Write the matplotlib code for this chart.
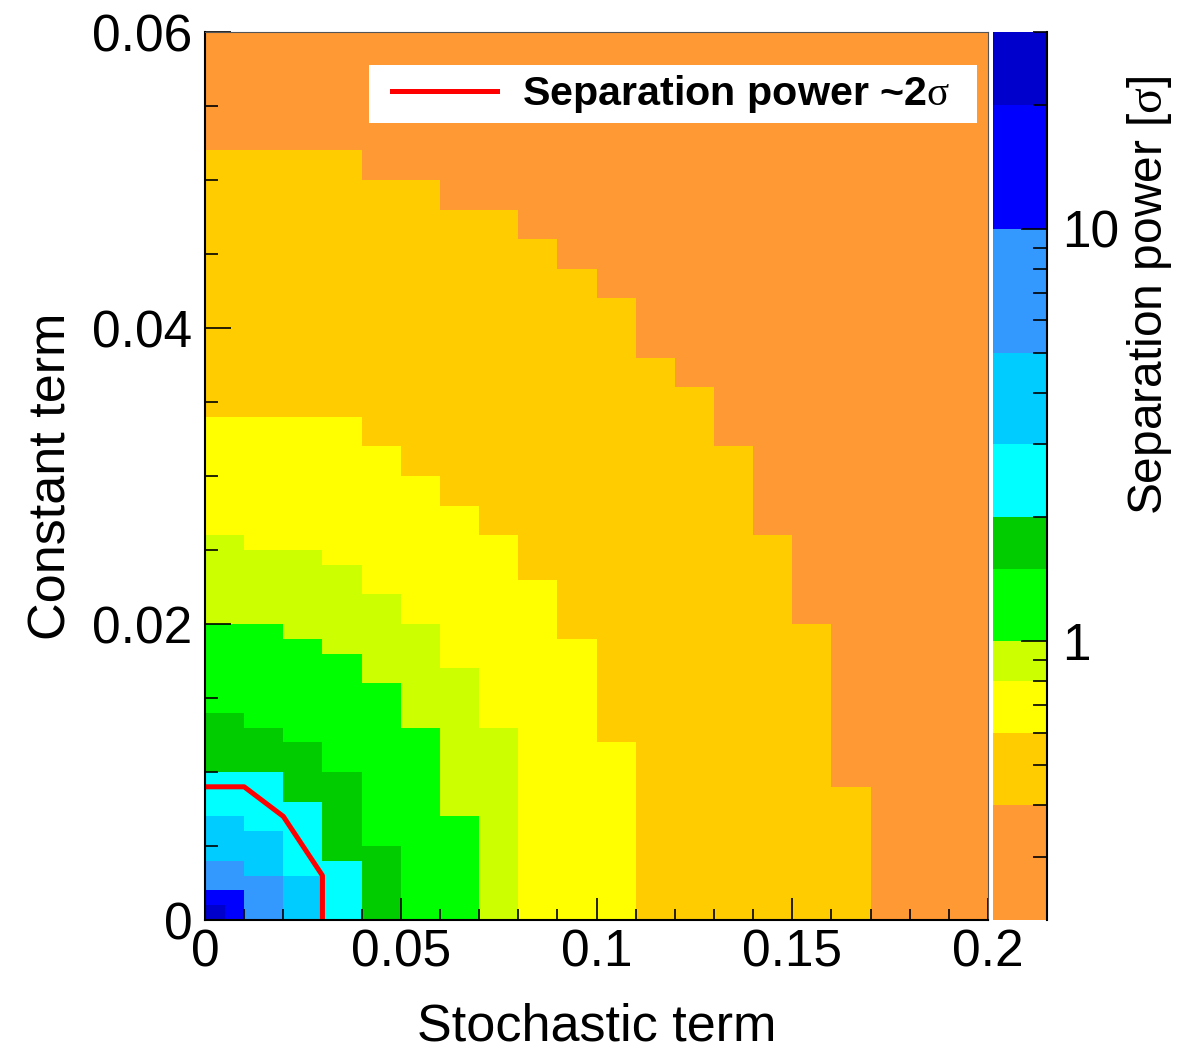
import numpy as np
import matplotlib
matplotlib.use('Agg')
import matplotlib.pyplot as plt
from matplotlib.colors import ListedColormap, BoundaryNorm
from matplotlib.patches import Rectangle
from matplotlib import ticker

plt.rcParams['font.family'] = ['Liberation Sans', 'DejaVu Sans']
plt.rcParams['mathtext.fontset'] = 'custom'
plt.rcParams['mathtext.rm'] = 'Liberation Serif'

# stochastic term bins (first bin split in half), constant term in 0.001 steps
stoch_edges = [0, 0.005, 0.01, 0.02, 0.03, 0.04, 0.05, 0.06, 0.07, 0.08, 0.09,
               0.10, 0.11, 0.12, 0.13, 0.14, 0.15, 0.16, 0.17, 0.18, 0.19, 0.20]
const_step = 0.001
n_const = 60

# separation power contour levels [sigma] and palette
levels = [0.211, 0.4, 0.6, 0.8, 1, 1.5, 2, 3, 5, 10, 20, 30]
colours = ['#FF9933', '#FFCC00', '#FFFF00', '#CCFF00', '#00FF00', '#00CC00',
           '#00FFFF', '#00CCFF', '#3399FF', '#0000FF', '#0000CC']

# top of the region above each level, per stochastic bin (units of 0.001 in constant term)
above_0p4 = [52, 52, 52, 52, 52, 50, 50, 48, 48, 46, 44, 42, 38, 36, 32, 26, 20, 9, 0, 0, 0]
above_0p6 = [34, 34, 34, 34, 34, 32, 30, 28, 26, 23, 19, 12, 0, 0, 0, 0, 0, 0, 0, 0, 0]
above_0p8 = [26, 26, 25, 25, 24, 22, 20, 17, 13, 0, 0, 0, 0, 0, 0, 0, 0, 0, 0, 0, 0]
above_1 = [20, 20, 20, 19, 18, 16, 13, 7, 0, 0, 0, 0, 0, 0, 0, 0, 0, 0, 0, 0, 0]
above_1p5 = [14, 14, 13, 12, 10, 5, 0, 0, 0, 0, 0, 0, 0, 0, 0, 0, 0, 0, 0, 0, 0]
above_2 = [10, 10, 10, 8, 4, 0, 0, 0, 0, 0, 0, 0, 0, 0, 0, 0, 0, 0, 0, 0, 0]
above_3 = [7, 7, 6, 3, 0, 0, 0, 0, 0, 0, 0, 0, 0, 0, 0, 0, 0, 0, 0, 0, 0]
above_5 = [4, 4, 3, 0, 0, 0, 0, 0, 0, 0, 0, 0, 0, 0, 0, 0, 0, 0, 0, 0, 0]
above_10 = [2, 2, 0, 0, 0, 0, 0, 0, 0, 0, 0, 0, 0, 0, 0, 0, 0, 0, 0, 0, 0]
above_20 = [1, 0, 0, 0, 0, 0, 0, 0, 0, 0, 0, 0, 0, 0, 0, 0, 0, 0, 0, 0, 0]

# ~2 sigma contour
contour_stoch = [0, 0.01, 0.02, 0.03, 0.03]
contour_const = [0.009, 0.009, 0.007, 0.003, 0.0]

# build the map: each cell gets the mid value of its level band
bounds = [above_0p4, above_0p6, above_0p8, above_1, above_1p5, above_2,
          above_3, above_5, above_10, above_20]
rows = np.arange(n_const)[:, None]
band = sum((rows < np.array(b)[None, :]).astype(int) for b in bounds)
lv = np.array(levels)
mid = np.sqrt(lv[:-1] * lv[1:])
Z = mid[band]
const_edges = np.arange(n_const + 1) * const_step

cmap = ListedColormap(colours)
norm = BoundaryNorm(levels, len(colours))

fig = plt.figure(figsize=(12.01, 10.54), dpi=100)
W, H = 1201, 1054
ax = fig.add_axes([205 / W, 1 - 920 / H, 783 / W, 888 / H])
cax = fig.add_axes([993 / W, 1 - 920 / H, 54 / W, 888 / H])

ax.pcolormesh(stoch_edges, const_edges, Z, cmap=cmap, norm=norm,
              shading='flat', edgecolors='face', linewidth=0, antialiased=False)
ax.plot(contour_stoch, contour_const, color='#FF0000', lw=3.6,
        label=r'Separation power ~2$\mathrm{\sigma}$')

ax.set_xlim(0, 0.2)
ax.set_ylim(0, 0.06)
ax.xaxis.set_major_locator(ticker.MultipleLocator(0.05))
ax.xaxis.set_minor_locator(ticker.MultipleLocator(0.01))
ax.yaxis.set_major_locator(ticker.MultipleLocator(0.02))
ax.yaxis.set_minor_locator(ticker.MultipleLocator(0.005))
ax.xaxis.set_major_formatter(ticker.FormatStrFormatter('%g'))
ax.yaxis.set_major_formatter(ticker.FormatStrFormatter('%g'))
ax.tick_params(which='both', direction='in', top=False, right=False,
               labelsize=37, width=1.2, color='black')
ax.tick_params(axis='x', which='major', length=16, pad=6)
ax.tick_params(axis='x', which='minor', length=8)
ax.tick_params(axis='y', which='major', length=19, pad=9)
ax.tick_params(axis='y', which='minor', length=9.5)
for s in ['left', 'bottom']:
    ax.spines[s].set_linewidth(1.5)
for s in ['top', 'right']:
    ax.spines[s].set_linewidth(0.8)
    ax.spines[s].set_color('#555555')

# legend on a white box
ax.add_patch(Rectangle((0.2095, 0.8975), 0.7765, 0.0653, transform=ax.transAxes,
                       facecolor='white', edgecolor='none', zorder=4))
leg = ax.legend(loc='center left', bbox_to_anchor=(0.2388, 0.930),
                prop={'weight': 'bold', 'size': 29.7}, frameon=False,
                borderpad=0, handlelength=2.55, handletextpad=0.6,
                borderaxespad=0)
leg.set_zorder(5)

# colour scale
cax.set_yscale('log')
cax.set_ylim(levels[0], levels[-1])
cax.set_xlim(0, 1)
for lo, hi, c in zip(levels[:-1], levels[1:], colours):
    cax.axhspan(lo, hi, color=c, lw=0)
cax.set_xticks([])
cax.yaxis.set_ticks_position('right')
cax.yaxis.set_major_formatter(ticker.FormatStrFormatter('%g'))
cax.yaxis.set_minor_formatter(ticker.NullFormatter())
cax.tick_params(axis='y', which='both', direction='in', labelsize=37,
                width=1.2, pad=11)
cax.tick_params(axis='y', which='major', length=19)
cax.tick_params(axis='y', which='minor', length=10)
for s in ['left', 'top', 'bottom']:
    cax.spines[s].set_visible(False)
cax.spines['right'].set_linewidth(1.5)

fig.text(596.5 / W, 0.002, 'Stochastic term', fontsize=37.5,
         ha='center', va='bottom')
fig.text(52 / W, 1 - 476 / H, 'Constant term', fontsize=37.5,
         ha='center', va='center', rotation=90)
fig.text(1149 / W, 1 - 75 / H, r'Separation power [$\mathrm{\sigma}$]',
         fontsize=34.5, ha='center', va='top', rotation=90)

fig.savefig('out.png', dpi=100)
